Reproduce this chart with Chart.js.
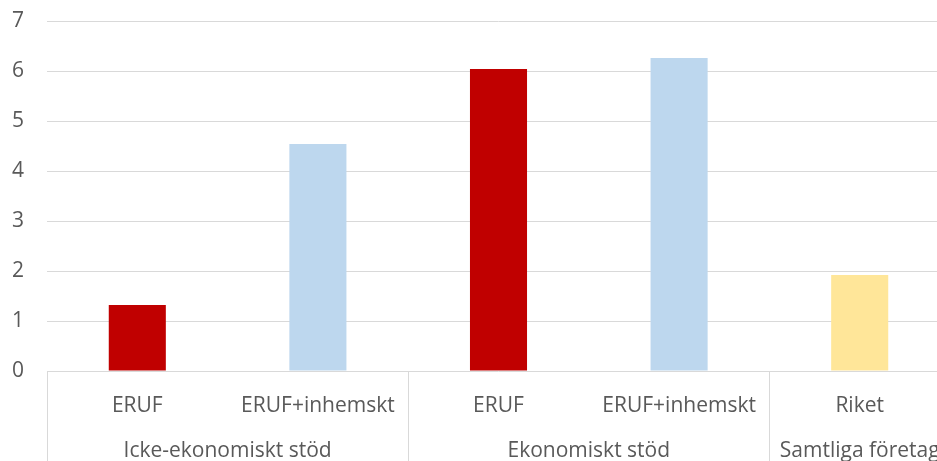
<!DOCTYPE html>
<html>
<head>
<meta charset="utf-8">
<script src="https://cdn.jsdelivr.net/npm/chart.js@4"></script>
<style>
  html, body { margin: 0; padding: 0; background: #fff; overflow: hidden; }
  .chart-container { width: 937px; height: 461px; overflow: hidden; }
</style>
</head>
<body>
<div class="chart-container">
  <canvas id="barChart" width="950" height="461"></canvas>
</div>
<script>
const categories = ['ERUF', 'ERUF+inhemskt', 'ERUF', 'ERUF+inhemskt', 'Riket'];
const values = [1.32, 4.54, 6.04, 6.26, 1.92];
const barColors = ['#c00000', '#bdd7ee', '#c00000', '#bdd7ee', '#ffe699'];
const groups = ['Icke-ekonomiskt stöd', 'Ekonomiskt stöd', 'Samtliga företag'];
const groupSizes = [2, 2, 1];
const yMin = 0;
const yMax = 7;

const textColor = '#595959';
const lineColor = '#d9d9d9';
const fontFamily = '"Open Sans", sans-serif';

// separatorer och grupprubriker under x-axeln
const groupPlugin = {
  id: 'groupLabels',
  afterDraw(chart) {
    const ctx = chart.ctx;
    const x = chart.scales.x;
    const area = chart.chartArea;
    const half = (x.getPixelForValue(1) - x.getPixelForValue(0)) / 2;
    ctx.save();
    ctx.strokeStyle = lineColor;
    ctx.lineWidth = 1;
    ctx.fillStyle = textColor;
    ctx.font = '21px ' + fontFamily;
    ctx.textAlign = 'center';
    ctx.textBaseline = 'alphabetic';
    let start = 0;
    groups.forEach((g, i) => {
      const end = start + groupSizes[i] - 1;
      const left = Math.round(x.getPixelForValue(start) - half) + 0.5;
      ctx.beginPath();
      ctx.moveTo(left, area.bottom);
      ctx.lineTo(left, chart.height);
      ctx.stroke();
      const mid = (x.getPixelForValue(start) + x.getPixelForValue(end)) / 2;
      ctx.fillText(g, mid, 457);
      start = end + 1;
    });
    ctx.restore();
  }
};

new Chart(document.getElementById('barChart'), {
  type: 'bar',
  data: {
    labels: categories,
    datasets: [{
      data: values,
      backgroundColor: barColors,
      borderWidth: 0,
      categoryPercentage: 1,
      barPercentage: 0.316
    }]
  },
  options: {
    responsive: false,
    animation: false,
    layout: { padding: { top: 21, left: 0, right: 0, bottom: 0 } },
    scales: {
      x: {
        grid: { display: false },
        border: { display: false },
        ticks: {
          color: textColor,
          font: { family: fontFamily, size: 21 },
          padding: 14,
          maxRotation: 0,
          autoSkip: false
        },
        afterFit(scale) {
          scale.height = 90;
          scale.paddingLeft = 0;
          scale.paddingRight = 0;
        }
      },
      y: {
        min: yMin,
        max: yMax,
        grid: { color: lineColor, lineWidth: 1, drawTicks: false },
        border: { display: false },
        ticks: {
          stepSize: 1,
          color: textColor,
          font: { family: fontFamily, size: 21 },
          padding: 23
        },
        afterFit(scale) {
          scale.width = 47;
          scale.paddingTop = 0;
          scale.paddingBottom = 0;
        }
      }
    },
    plugins: {
      legend: { display: false },
      tooltip: { enabled: false },
      title: { display: false }
    }
  },
  plugins: [groupPlugin]
});
</script>
</body>
</html>
